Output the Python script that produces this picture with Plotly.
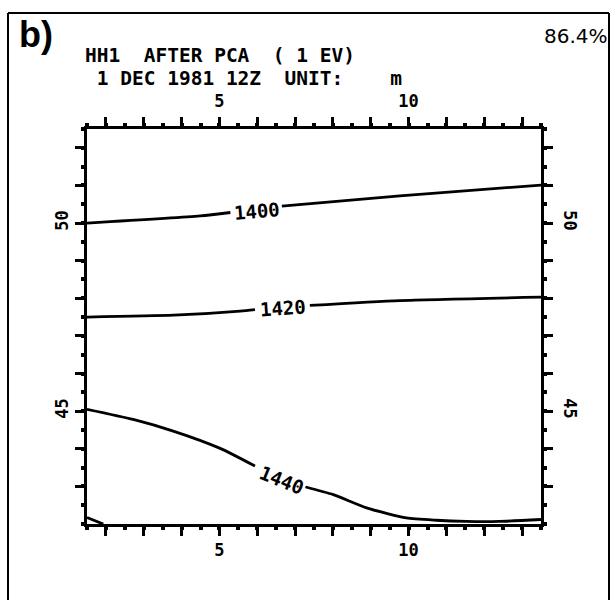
import plotly.graph_objects as go

# ---- data ----
x_range = [1.5, 13.5]
y_range = [42.0, 52.5]
x_tick_vals = list(range(2, 14))
x_tick_text = ["" if v not in (5, 10) else str(v) for v in x_tick_vals]
y_tick_vals = list(range(43, 53))
y_tick_text = ["" if v not in (45, 50) else str(v) for v in y_tick_vals]

c1400_x = [1.5, 4.49, 5.29, None, 6.65, 9.77, 13.5]
c1400_y = [50.0, 50.19, 50.28, None, 50.45, 50.72, 51.01]
c1420_x = [1.5, 3.79, 5.55, 5.94, None, 7.39, 9.77, 13.5]
c1420_y = [47.5, 47.55, 47.66, 47.70, None, 47.81, 47.94, 48.03]
c1440_x = [1.5, 2.72, 3.78, 5.02, 5.94, None, 7.26, 8.01, 8.89, 9.94, 10.73, 11.53, 12.40, 13.5]
c1440_y = [45.05, 44.78, 44.47, 44.01, 43.54, None, 42.99, 42.78, 42.43, 42.16, 42.10, 42.07, 42.07, 42.12]
c1460_x = [1.5, 1.93]
c1460_y = [42.17, 42.0]

label_text = ["1400", "1420", "1440"]
label_x = [5.99, 6.69, 6.65]
label_y = [50.31, 47.73, 43.18]
label_angle = [-5, -4, 22]

title1 = "HH1  AFTER PCA  ( 1 EV)"
title2 = " 1 DEC 1981 12Z  UNIT:    m"
panel = "b)"
percent = "86.4%"

# ---- layout geometry ----
W, H = 616, 600
ML, MR, MT, MB = 87, 75, 129, 76
PW, PH = W - ML - MR, H - MT - MB


def px(xp):
    return (xp - ML) / PW


def py(yp):
    return 1 - (yp - MT) / PH


fig = go.Figure()
line = dict(color="black", width=2.8, shape="spline", smoothing=0.6)
for xs, ys in [(c1400_x, c1400_y), (c1420_x, c1420_y), (c1440_x, c1440_y), (c1460_x, c1460_y)]:
    fig.add_trace(go.Scatter(x=xs, y=ys, mode="lines", line=line,
                             connectgaps=False, showlegend=False, hoverinfo="skip"))
fig.add_trace(go.Scatter(x=[], y=[], xaxis="x2", yaxis="y2", showlegend=False))

mono = "DejaVu Sans Mono"
tickfont = dict(family=mono, size=17, color="black", weight="bold")
common = dict(showgrid=False, zeroline=False, showline=True, linecolor="black",
              linewidth=3, ticks="outside", ticklen=9, tickwidth=2.5,
              tickcolor="black", tickfont=tickfont, tickmode="array",
              minor=dict(ticks="outside", dtick=0.5, tick0=0.5, ticklen=3,
                         tickwidth=4, tickcolor="black", showgrid=False))

fig.update_layout(
    width=W, height=H, margin=dict(l=ML, r=MR, t=MT, b=MB, pad=0),
    paper_bgcolor="white", plot_bgcolor="white",
    xaxis=dict(range=x_range, tickvals=x_tick_vals, ticktext=x_tick_text, side="bottom", **common),
    xaxis2=dict(range=x_range, tickvals=x_tick_vals, ticktext=x_tick_text, side="top",
                overlaying="x", matches="x", ticklabelstandoff=3, **common),
    yaxis=dict(range=y_range, tickvals=y_tick_vals, ticktext=y_tick_text, side="left",
               tickangle=-90, **common),
    yaxis2=dict(range=y_range, tickvals=y_tick_vals, ticktext=y_tick_text, side="right",
                overlaying="y", matches="y", tickangle=90, ticklabelstandoff=4, **common),
)

for t, xv, yv, ang in zip(label_text, label_x, label_y, label_angle):
    fig.add_annotation(x=xv, y=yv, text=t, showarrow=False, textangle=ang,
                       font=dict(family=mono, size=19, color="black", weight="bold"),
                       bgcolor="white", xanchor="center", yanchor="middle")

fig.add_annotation(xref="paper", yref="paper", x=px(83), y=py(56), text=title1,
                   showarrow=False, xanchor="left", yanchor="middle",
                   font=dict(family=mono, size=19.5, color="black", weight="bold"))
fig.add_annotation(xref="paper", yref="paper", x=px(83), y=py(78), text=title2,
                   showarrow=False, xanchor="left", yanchor="middle",
                   font=dict(family=mono, size=19.5, color="black", weight="bold"))
fig.add_annotation(xref="paper", yref="paper", x=px(17), y=py(34), text=panel,
                   showarrow=False, xanchor="left", yanchor="middle",
                   font=dict(family="Liberation Sans", size=36, color="black", weight="bold"))
fig.add_annotation(xref="paper", yref="paper", x=px(610), y=py(36), text=percent,
                   showarrow=False, xanchor="right", yanchor="middle",
                   font=dict(family="DejaVu Sans", size=20, color="black"))

# outer frame (left, top, right)
frame = dict(color="black", width=2)
fig.add_shape(type="line", xref="paper", yref="paper", x0=px(8), x1=px(8), y0=py(13), y1=py(605), line=frame)
fig.add_shape(type="line", xref="paper", yref="paper", x0=px(8), x1=px(609), y0=py(13), y1=py(13), line=frame)
fig.add_shape(type="line", xref="paper", yref="paper", x0=px(609), x1=px(609), y0=py(13), y1=py(605), line=frame)

fig.write_html("out.html")
